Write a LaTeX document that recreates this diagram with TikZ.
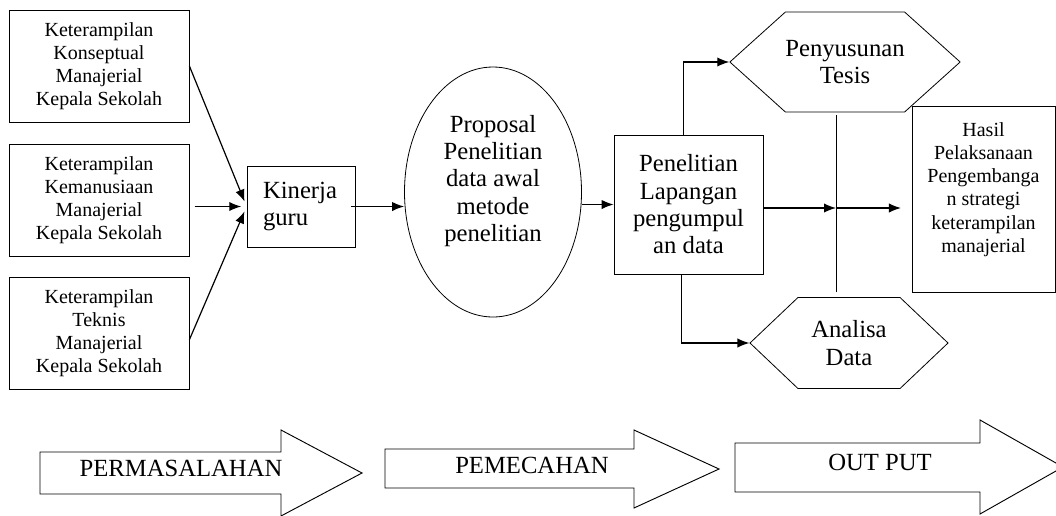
\documentclass[tikz,border=0pt]{standalone}
\usepackage{fontspec}
\setmainfont{Liberation Serif}
\usetikzlibrary{arrows.meta,shapes.geometric,shapes.symbols}

\begin{document}
\begin{tikzpicture}[x=0.75pt,y=-0.75pt]
\tikzset{box/.style = {shape=rectangle,draw,line width=0.6pt,inner sep=0pt,align=center}}
\tikzset{hexa/.style = {shape=signal,signal to=west and east,draw,line width=0.6pt,inner sep=0pt,align=center}}
\tikzset{edge/.style = {-{Latex[length=9pt,width=7pt]},line width=0.9pt}}
\tikzset{small/.style = {font=\fontsize{15}{17.3}\selectfont}}
\tikzset{big/.style = {font=\fontsize{18.5}{20.5}\selectfont}}
\tikzset{blockarrow/.style = {draw,line width=0.7pt}}
\useasboundingbox (0,0) rectangle (1056,515);
% boxes
\node[box,small,minimum width=135pt,minimum height=84pt] (konsep) at (99,66) {Keterampilan\\Konseptual\\Manajerial\\Kepala Sekolah};
\node[box,small,minimum width=135pt,minimum height=84pt] (manusia) at (99,200.5) {Keterampilan\\Kemanusiaan\\Manajerial\\Kepala Sekolah};
\node[box,small,minimum width=135pt,minimum height=84pt] (teknis) at (99,333) {Keterampilan\\Teknis\\Manajerial\\Kepala Sekolah};
\node[box,big,align=left,text width=57pt,minimum height=60.75pt,inner xsep=12pt] (kinerja) at (301,206.5) {Kinerja\\guru};
\node[box,big,shape=ellipse,minimum width=132.75pt,minimum height=187.5pt] (proposal) at (493,192) {Proposal\\Penelitian\\data awal\\metode\\penelitian\\~};
\node[box,big,minimum width=111.75pt,minimum height=104.25pt] (lapangan) at (688.5,204.5) {Penelitian\\Lapangan\\pengumpul\\an data};
\node[hexa,big,signal pointer angle=84,minimum width=165pt,minimum height=75pt] (tesis) at (845,62) {Penyusunan\\Tesis};
\node[hexa,big,signal pointer angle=87,minimum width=148.5pt,minimum height=68.25pt] (analisa) at (849,343) {Analisa\\Data};
\node[box,small,minimum width=107.25pt,minimum height=139.5pt] (hasil) at (983.5,199) {Hasil\\Pelaksanaan\\Pengembanga\\n strategi\\keterampilan\\manajerial\\~};
\coordinate (atas) at (836,115);
\coordinate (bawah) at (836,292);
\coordinate (temu) at (836,208);
% edges
\draw[edge,shorten >=4pt] (konsep.east) -- (kinerja.west);
\draw[edge,shorten >=4pt] ([xshift=4pt]manusia.east |- kinerja.west) -- (kinerja.west);
\draw[edge,shorten >=4pt] ([yshift=-5pt]teknis.east) -- (kinerja.west);
\draw[edge] ([xshift=-3pt]kinerja.east) -- (kinerja.east -| proposal.west);
\draw[edge] (proposal.east |- lapangan.west) -- (lapangan.west);
\draw[edge] ([xshift=-4pt]lapangan.north) |- (tesis.west);
\draw[edge] ([xshift=-5pt]lapangan.south) |- (analisa.west);
\draw[line width=0.6pt] (atas) -- (bawah);
\draw[edge] (lapangan.east |- temu) -- (temu);
\draw[edge,shorten >=8pt] (temu) -- (temu -| hasil.west);
% block arrows
\draw[blockarrow] (40,452) -- (281,452) -- (281,430) -- (362,473) -- (281,516) -- (281,494) -- (40,494) -- cycle;
\draw[blockarrow] (385,449) -- (634,449) -- (634,430) -- (719,469) -- (634,508) -- (634,488) -- (385,488) -- cycle;
\draw[blockarrow] (735,443) -- (980,443) -- (980,420) -- (1063,467) -- (980,514) -- (980,492) -- (735,492) -- cycle;
\node[big] (masalah) at (181,468) {PERMASALAHAN};
\node[big] (pecahan) at (532,465) {PEMECAHAN};
\node[big] (keluaran) at (880,462) {OUT PUT};
\end{tikzpicture}
\end{document}
